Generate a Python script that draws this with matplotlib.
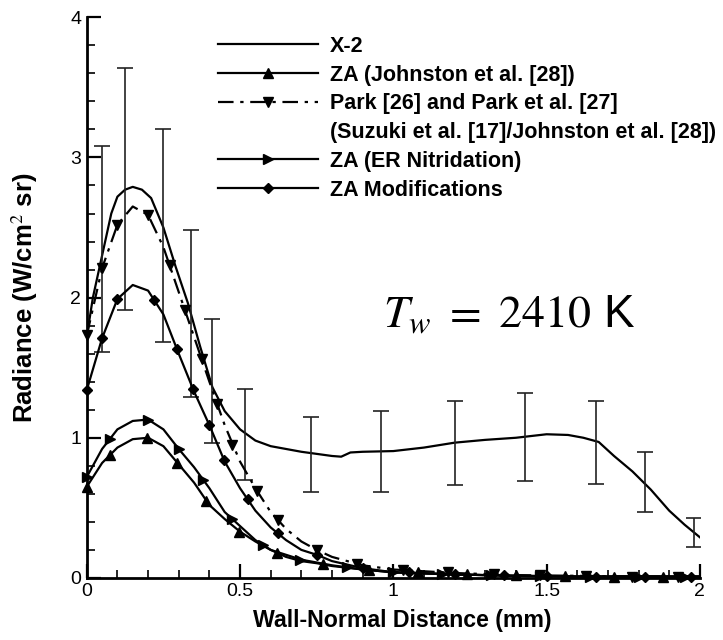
import matplotlib
matplotlib.use("Agg")
import matplotlib.pyplot as plt
from matplotlib.lines import Line2D
from matplotlib.ticker import MultipleLocator

plt.rcParams['font.family'] = ['Liberation Sans', 'DejaVu Sans']
plt.rcParams['mathtext.fontset'] = 'stix'

# ---------------- data ----------------
x2_x = [0, 0.02, 0.05, 0.08, 0.1, 0.125, 0.15, 0.18, 0.21, 0.25, 0.29, 0.33, 0.37, 0.41,
        0.45, 0.5, 0.55, 0.6, 0.65, 0.7, 0.75, 0.8, 0.83, 0.86, 0.9, 1.0, 1.1, 1.2, 1.3,
        1.4, 1.5, 1.57, 1.62, 1.67, 1.72, 1.78, 1.84, 1.9, 1.95, 2.0]
x2_y = [1.72, 2.0, 2.3, 2.6, 2.72, 2.77, 2.79, 2.77, 2.71, 2.5, 2.22, 1.96, 1.65, 1.36,
        1.19, 1.06, 0.98, 0.94, 0.92, 0.9, 0.885, 0.87, 0.865, 0.895, 0.9, 0.905, 0.93,
        0.965, 0.985, 1.0, 1.025, 1.02, 1.0, 0.97, 0.87, 0.76, 0.63, 0.48, 0.38, 0.29]

err_x = [0.05, 0.124, 0.25, 0.34, 0.41, 0.515, 0.73, 0.96, 1.20, 1.43, 1.66, 1.82, 1.98]
err_hi = [3.08, 3.64, 3.20, 2.48, 1.85, 1.35, 1.15, 1.19, 1.26, 1.32, 1.26, 0.90, 0.43]
err_lo = [1.61, 1.91, 1.68, 1.29, 0.96, 0.70, 0.61, 0.61, 0.66, 0.69, 0.67, 0.47, 0.22]

sim_x = [0, 0.05, 0.1, 0.15, 0.2, 0.25, 0.3, 0.35, 0.4, 0.45, 0.5, 0.55, 0.6, 0.65, 0.7,
         0.75, 0.8, 0.9, 1.0, 1.2, 1.4, 1.6, 1.8, 2.0]
johnston_y = [0.65, 0.82, 0.93, 0.99, 1.0, 0.94, 0.81, 0.68, 0.52, 0.42, 0.33, 0.26, 0.2,
              0.15, 0.12, 0.105, 0.085, 0.06, 0.04, 0.025, 0.015, 0.01, 0.01, 0.01]
park_y = [1.73, 2.21, 2.52, 2.65, 2.59, 2.36, 2.04, 1.72, 1.40, 1.09, 0.83, 0.64, 0.47,
          0.35, 0.26, 0.20, 0.15, 0.09, 0.06, 0.035, 0.02, 0.015, 0.01, 0.01]
er_y = [0.72, 0.92, 1.06, 1.12, 1.13, 1.06, 0.92, 0.79, 0.64, 0.47, 0.37, 0.27, 0.2,
        0.165, 0.13, 0.11, 0.09, 0.06, 0.04, 0.025, 0.015, 0.01, 0.01, 0.01]
mod_y = [1.34, 1.71, 1.99, 2.09, 2.05, 1.88, 1.60, 1.33, 1.09, 0.83, 0.64, 0.48, 0.36,
         0.27, 0.2, 0.165, 0.12, 0.07, 0.04, 0.025, 0.015, 0.01, 0.01, 0.01]

# symbol positions along each curve
johnston_mx = [0, 0.075, 0.196, 0.293, 0.39, 0.496, 0.62, 0.77, 0.92, 1.08, 1.24, 1.4,
               1.56, 1.72, 1.88]
johnston_my = [0.65, 0.875, 1.0, 0.82, 0.55, 0.33, 0.18, 0.10, 0.06, 0.04, 0.03, 0.02,
               0.015, 0.01, 0.01]
park_mx = [0, 0.05, 0.1, 0.2, 0.27, 0.32, 0.375, 0.424, 0.475, 0.555, 0.623, 0.75, 0.88,
           1.03, 1.18, 1.33, 1.48, 1.63, 1.78, 1.93]
park_my = [1.73, 2.21, 2.52, 2.59, 2.23, 1.91, 1.56, 1.24, 0.95, 0.62, 0.41, 0.20, 0.10,
           0.06, 0.04, 0.03, 0.02, 0.015, 0.01, 0.01]
er_mx = [0, 0.075, 0.2, 0.30, 0.38, 0.475, 0.575, 0.695, 0.85, 1.0, 1.16, 1.32, 1.48,
         1.64, 1.8, 1.95]
er_my = [0.72, 0.99, 1.13, 0.92, 0.70, 0.42, 0.235, 0.13, 0.075, 0.04, 0.03, 0.02, 0.015,
         0.01, 0.01, 0.01]
mod_mx = [0, 0.05, 0.1, 0.22, 0.295, 0.346, 0.40, 0.447, 0.525, 0.623, 0.75, 0.9, 1.05,
          1.2, 1.36, 1.5, 1.66, 1.82, 1.97]
mod_my = [1.34, 1.71, 1.99, 1.98, 1.63, 1.35, 1.09, 0.84, 0.56, 0.32, 0.165, 0.07, 0.04,
          0.03, 0.02, 0.015, 0.01, 0.01, 0.01]

labels = ["X-2", "ZA (Johnston et al. [28])", "Park [26] and Park et al. [27]",
          "(Suzuki et al. [17]/Johnston et al. [28])", "ZA (ER Nitridation)",
          "ZA Modifications"]
x_ticks = [0, 0.5, 1, 1.5, 2]
x_ticklabels = ["0", "0.5", "1", "1.5", "2"]
y_ticks = [0, 1, 2, 3, 4]
y_ticklabels = ["0", "1", "2", "3", "4"]

# ---------------- figure ----------------
fig = plt.figure(figsize=(7.23, 6.4), dpi=100)
ax = fig.add_axes([0.120, 0.097, 0.848, 0.876])

lw = 1.6
ms = 6.5
dashdot = (0, (7, 3, 1.5, 3))
# X-2 with error bars
ax.plot(x2_x, x2_y, color='black', lw=lw)
mid = [(h + l) / 2 for h, l in zip(err_hi, err_lo)]
half = [(h - l) / 2 for h, l in zip(err_hi, err_lo)]
ax.errorbar(err_x, mid, yerr=half, fmt='none', ecolor='#222222', elinewidth=1.2,
            capsize=5.5, capthick=1.2)

series = [
    (johnston_y, johnston_mx, johnston_my, '^', '-'),
    (park_y, park_mx, park_my, 'v', dashdot),
    (er_y, er_mx, er_my, '>', '-'),
    (mod_y, mod_mx, mod_my, 'D', '-'),
]
for ys, mx, my, mk, ls in series:
    ax.plot(sim_x, ys, color='black', lw=lw, ls=ls)
    ax.plot(mx, my, ls='none', marker=mk, ms=ms if mk != 'D' else ms - 1,
            color='black', clip_on=False)

ax.set_xlim(0, 2)
ax.set_ylim(0, 4)
ax.set_xticks(x_ticks)
ax.set_xticklabels(x_ticklabels)
ax.set_yticks(y_ticks)
ax.set_yticklabels(y_ticklabels)
ax.xaxis.set_minor_locator(MultipleLocator(0.1))
ax.yaxis.set_minor_locator(MultipleLocator(0.2))
ax.tick_params(which='major', direction='in', length=10, width=1.6, labelsize=14,
               pad=4)
ax.tick_params(which='minor', direction='in', length=6, width=1.2)
for s in ['top', 'right']:
    ax.spines[s].set_visible(False)
for s in ['left', 'bottom']:
    ax.spines[s].set_linewidth(2.0)

ax.set_xlabel("Wall-Normal Distance (mm)", fontsize=16.7, fontweight='bold')
ax.set_ylabel("Radiance (W/cm$^2$ sr)", fontsize=18.5, fontweight='bold')
ax.xaxis.set_label_coords(0.515, -0.055)
ax.yaxis.set_label_coords(-0.077, 0.5)

# legend
handles = [
    Line2D([], [], color='black', lw=lw),
    Line2D([], [], color='black', lw=lw, marker='^', ms=ms),
    Line2D([], [], color='black', lw=lw, ls=dashdot, marker='v', ms=ms),
    Line2D([], [], color='none', lw=0),
    Line2D([], [], color='black', lw=lw, marker='>', ms=ms),
    Line2D([], [], color='black', lw=lw, marker='D', ms=ms - 1),
]
fig.legend(handles, labels, loc='upper left', bbox_to_anchor=(0.3015, 0.944),
           frameon=False, numpoints=1, handlelength=4.65, handletextpad=0.56,
           borderpad=0, borderaxespad=0, labelspacing=0.36,
           prop={'size': 15.5, 'weight': 'bold'})

fig.text(0.530, 1 - 328 / 640, r"$T_w\ =\ 2410$ K", fontsize=33, ha='left',
         va='baseline')

fig.savefig("out.png", dpi=100)
